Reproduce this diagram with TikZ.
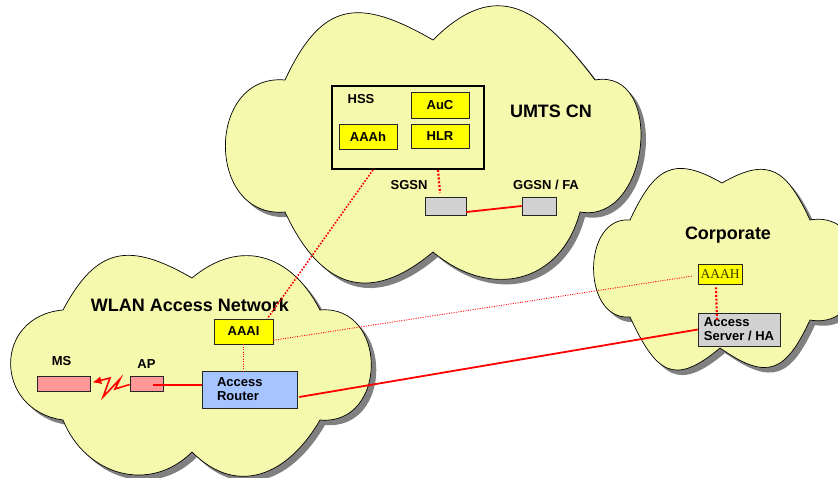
\documentclass[tikz,border=0pt]{standalone}
\usepackage{fontspec}
\setmainfont{Liberation Sans}
\newfontfamily\timesf{Liberation Serif}
\usetikzlibrary{shadows,arrows.meta}
\definecolor{cloudfill}{RGB}{245,249,174}
\definecolor{shade}{RGB}{128,128,128}
\definecolor{boxyellow}{RGB}{255,255,0}
\definecolor{boxgray}{RGB}{210,210,210}
\definecolor{boxblue}{RGB}{166,196,255}
\definecolor{boxpink}{RGB}{255,153,153}
\definecolor{linered}{RGB}{255,0,0}
\definecolor{olivetext}{RGB}{60,60,0}

\newcommand\umtscloud[1]{\path[#1] (285,-80) to[out=65,in=150,looseness=1.45] (433,-40)
  to[out=45,in=127,looseness=1.38] (595,-80) to[out=10,in=-10,looseness=1.38] (580,-212)
  to[out=-105,in=-40,looseness=1.25] (433,-252) to[out=-140,in=-65,looseness=1.4] (285,-212)
  to[out=185,in=175,looseness=1.55] (285,-80) -- cycle;}
\newcommand\corpcloud[1]{\path[#1] (630,-220) to[out=65,in=150,looseness=1.47] (722,-183)
  to[out=30,in=115,looseness=1.47] (810,-220) to[out=10,in=-10,looseness=1.7] (810,-320)
  to[out=-115,in=-35,looseness=1.57] (720,-348) to[out=-140,in=-65,looseness=1.64] (630,-317)
  to[out=185,in=175,looseness=1.29] (630,-220) -- cycle;}
\newcommand\wlancloud[1]{\path[#1] (63,-310) to[out=62,in=150,looseness=1.39] (192,-278)
  to[out=40,in=117,looseness=1.22] (320,-310) to[out=5,in=-5,looseness=1.6] (320,-420)
  to[out=-120,in=-45,looseness=1.24] (192,-452) to[out=-135,in=-68,looseness=1.15] (63,-420)
  to[out=172,in=185,looseness=1.64] (63,-310) -- cycle;}

\begin{document}
\begin{tikzpicture}[x=1pt,y=1pt,
  cloudstyle/.style={fill=cloudfill, draw=black, line width=0.7pt},
  cloudshadow/.style={fill=shade, shift={(5,-5)}},
  boxstyle/.style={draw=black!85, line width=0.6pt, inner sep=0pt,
    font=\fontsize{13}{14}\selectfont\bfseries,
    drop shadow={shadow xshift=1.2pt, shadow yshift=-1.2pt, fill=black!55, opacity=1}},
  lbl/.style={font=\fontsize{13}{14}\selectfont\bfseries, inner sep=0pt, anchor=base},
  title/.style={font=\fontsize{18}{20}\selectfont\bfseries, inner sep=0pt, anchor=base},
  thickdot/.style={draw=linered, line width=2.2pt, dash pattern=on 2pt off 1.8pt},
  middot/.style={draw=linered, line width=1.6pt, dash pattern=on 1.6pt off 1.6pt},
  thindot/.style={draw=linered, line width=0.9pt, dash pattern=on 1pt off 1.4pt},
  redline/.style={draw=linered, line width=1.8pt}]
\useasboundingbox (0,0) rectangle (838,-478);
\clip (0,0) rectangle (838,-478);

% clouds
\umtscloud{cloudshadow}
\umtscloud{cloudstyle}
\corpcloud{cloudshadow}
\corpcloud{cloudstyle}
\wlancloud{cloudshadow}
\wlancloud{cloudstyle}

% UMTS CN
\node[title] (umtslbl) at (551,-118) {UMTS CN};
\node[draw=black, line width=1.8pt, fill=cloudfill, minimum width=152pt, minimum height=83pt, inner sep=0pt] (HSS) at (408,-127.5) {};
\node[lbl] (hsslbl) at (361,-104) {HSS};
\node[boxstyle, fill=boxyellow, minimum width=58pt, minimum height=26pt] (AuC) at (440,-105) {AuC};
\node[boxstyle, fill=boxyellow, minimum width=58pt, minimum height=24pt] (HLR) at (440,-136) {HLR};
\node[boxstyle, fill=boxyellow, minimum width=58pt, minimum height=25pt] (AAAh) at (368,-136.5) {AAAh};
\node[lbl] (sgsnlbl) at (409,-190) {SGSN};
\node[lbl] (ggsnlbl) at (546,-190) {GGSN / FA};
\node[boxstyle, fill=boxgray, minimum width=41pt, minimum height=18pt] (SGSN) at (445.5,-206) {};
\node[boxstyle, fill=boxgray, minimum width=34pt, minimum height=18pt] (GGSN) at (539,-206) {};

% WLAN
\node[title] (wlanlbl) at (190,-311.5) {WLAN Access Network};
\node[boxstyle, fill=boxyellow, minimum width=59pt, minimum height=25pt] (AAAI) at (243.5,-331.5) {AAAI};
\node[boxstyle, fill=boxblue, minimum width=95pt, minimum height=37pt, text width=65pt, inner xsep=15pt, align=left] (AR) at (249.5,-389.5) {Access\\Router};
\node[lbl] (mslbl) at (61.5,-365) {MS};
\node[lbl] (aplbl) at (146.5,-368) {AP};
\node[boxstyle, fill=boxpink, minimum width=53pt, minimum height=15pt] (MS) at (63.5,-383.5) {};
\node[boxstyle, fill=boxpink, minimum width=33pt, minimum height=15pt] (AP) at (146.5,-383.5) {};

% Corporate
\node[title] (corplbl) at (728,-240) {Corporate};
\node[boxstyle, fill=boxyellow, minimum width=44pt, minimum height=20pt, font=\fontsize{13.5}{14}\timesf, text=olivetext] (AAAH) at (720,-274) {AAAH};
\node[boxstyle, fill=boxgray, minimum width=82pt, minimum height=33pt, align=left] (AS) at (739,-329.5) {Access\\Server / HA};

% connectors
\draw[redline] ([yshift=-6pt]SGSN.east) -- (GGSN.west);
\coordinate (sgsntop) at (440,-193);
\draw[thickdot] ([xshift=30pt]HSS.south) -- (sgsntop);
\draw[middot] ([xshift=-35pt]HSS.south) -- ([xshift=-6pt]AAAI.north east);
\draw[thindot] (AAAI.south) -- ([yshift=-2pt]AAAI.south |- AR.north);
\draw[thindot] ([yshift=4pt]AAAI.south east) -- ([xshift=-5pt,yshift=-2pt]AAAH.west);
\draw[thickdot] ([xshift=-4pt,yshift=-3pt]AAAH.south) -- ([xshift=-22pt,yshift=-7pt]AS.north);
\draw[redline] ([xshift=2pt,yshift=-7.5pt]AR.east) -- (AS.west);
\draw[draw=linered, line width=2pt] ([xshift=6.5pt,yshift=-1.5pt]AP.center) -- ([yshift=4.5pt]AR.west);
\draw[draw=linered, line width=1.6pt, line join=miter, -{Latex[length=9pt,width=8pt]}]
  ([yshift=-1pt]AP.west) -- (115,-389) -- (120,-379) -- (103,-397) -- (110,-378) -- ([xshift=2pt,yshift=1pt]MS.east);
\end{tikzpicture}
\end{document}
